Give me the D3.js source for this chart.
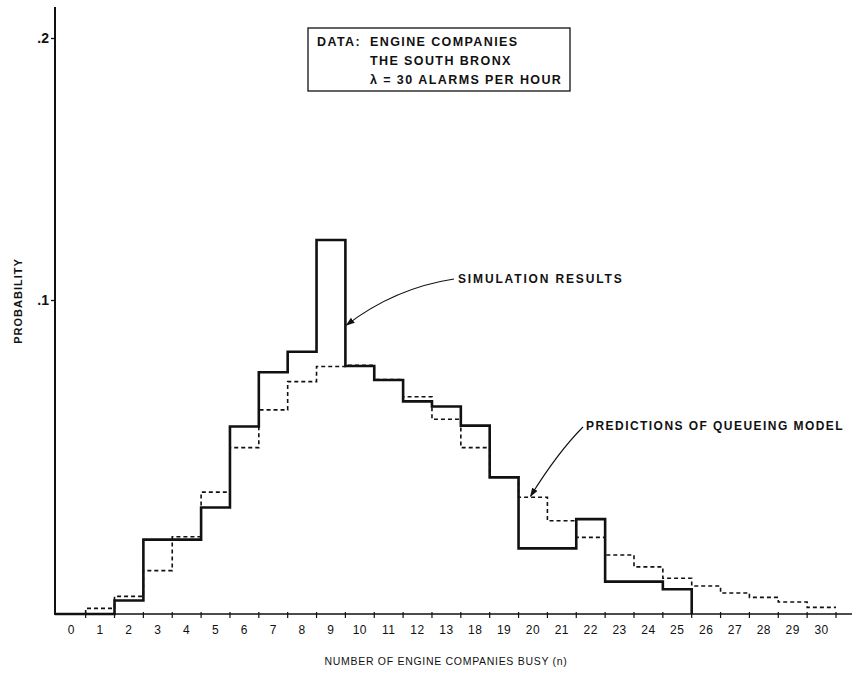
<!DOCTYPE html>
<html>
<head>
<meta charset="utf-8">
<script src="https://cdn.jsdelivr.net/npm/d3@7/dist/d3.min.js"></script>
<style>
  html, body { margin: 0; padding: 0; background: #fff; }
  svg { display: block; }
  text { font-family: "Liberation Sans", Arial, sans-serif; fill: #111; }
</style>
</head>
<body>
<svg id="chart" width="864" height="673"></svg>
<script>
// ---- data ----
const categories = ["0","1","2","3","4","5","6","7","8","9","10","11","12","13",
                    "18","19","20","21","22","23","24","25","26","27","28","29","30"];
const simulationResults = [0, 0, 0.0043, 0.0237, 0.0237, 0.0339, 0.0597, 0.0770, 0.0835, 0.1229,
                           0.0790, 0.0745, 0.0677, 0.0661, 0.0600, 0.0435, 0.0209, 0.0209, 0.0302,
                           0.0103, 0.0103, 0.0079, 0, 0, 0, 0, 0];
const queueingModel = [0, 0.0018, 0.0056, 0.0138, 0.0246, 0.0388, 0.0530, 0.0650, 0.0740, 0.0788,
                       0.0792, 0.0747, 0.0692, 0.0620, 0.0530, 0.0437, 0.0372, 0.0297, 0.0244,
                       0.0188, 0.0150, 0.0114, 0.0089, 0.0067, 0.0053, 0.0038, 0.0021];
const yTickValues = [0.1, 0.2];
const yTickLabels = [".1", ".2"];
const legendHead = "DATA:";
const legendLines = ["ENGINE COMPANIES", "THE SOUTH BRONX", "\u03BB = 30 ALARMS PER HOUR"];
const xTitle = "NUMBER OF ENGINE COMPANIES BUSY (n)";
const yTitle = "PROBABILITY";
const simLabel = "SIMULATION RESULTS";
const modelLabel = "PREDICTIONS OF QUEUEING MODEL";

// ---- scales ----
const svg = d3.select("#chart");
const x = d3.scaleBand().domain(categories).range([56.8, 836]).padding(0);
// the original drawing's axis is not uniformly spaced: piecewise-linear scale
const y = d3.scaleLinear().domain([0, 0.1, 0.2]).range([614, 300, 38]);

const defs = svg.append("defs");
defs.append("marker").attr("id", "arrow").attr("viewBox", "0 0 10 10")
  .attr("refX", 9).attr("refY", 5).attr("markerWidth", 9).attr("markerHeight", 9)
  .attr("markerUnits", "userSpaceOnUse").attr("orient", "auto")
  .append("path").attr("d", "M0,1.5 L10,5 L0,8.5 Z").attr("fill", "#111");

// ---- axes ----
const y0 = y(0);
svg.append("line").attr("x1", 55).attr("x2", 55).attr("y1", 7).attr("y2", y0 + 1)
  .attr("stroke", "#111").attr("stroke-width", 2);
svg.append("line").attr("x1", 54).attr("x2", 852).attr("y1", y0).attr("y2", y0)
  .attr("stroke", "#111").attr("stroke-width", 1.6);

const yAxis = d3.axisLeft(y).tickValues(yTickValues)
  .tickFormat((d, i) => yTickLabels[i]).tickSize(4).tickPadding(2);
const gy = svg.append("g").attr("transform", "translate(55,0)").call(yAxis);
gy.select(".domain").remove();
gy.selectAll(".tick line").attr("stroke", "#111").attr("stroke-width", 1.3);
gy.selectAll(".tick text").attr("font-size", 14).attr("font-weight", "bold")
  .attr("font-family", "Liberation Sans, Arial, sans-serif").attr("fill", "#111");

// x ticks at bin boundaries
svg.append("g").selectAll("line").data(categories).join("line")
  .attr("x1", d => x(d) + x.bandwidth()).attr("x2", d => x(d) + x.bandwidth())
  .attr("y1", y0 - 2).attr("y2", y0 + 4)
  .attr("stroke", "#111").attr("stroke-width", 1.2);

const xAxis = d3.axisBottom(x).tickSize(0).tickPadding(11);
const gx = svg.append("g").attr("transform", `translate(0,${y0})`).call(xAxis);
gx.select(".domain").remove();
gx.selectAll(".tick text").attr("font-size", 12).attr("letter-spacing", 0.5)
  .attr("font-family", "Liberation Sans, Arial, sans-serif").attr("fill", "#111");

// titles
svg.append("text").attr("x", 446).attr("y", 665).attr("text-anchor", "middle")
  .attr("font-size", 10.5).attr("letter-spacing", 0.7).text(xTitle);
svg.append("text").attr("transform", "translate(22,301) rotate(-90)")
  .attr("text-anchor", "middle").attr("font-size", 11).attr("font-weight", "bold")
  .attr("letter-spacing", 1).text(yTitle);

// ---- step lines ----
function stepPoints(values, dropAtEnd) {
  let first = values.findIndex(v => v > 0);
  let last = values.length - 1;
  while (last > 0 && values[last] === 0) last--;
  const pts = [];
  const startX = x(categories[first]);
  pts.push([dropAtEnd ? 55 : startX, y(0)]);
  if (dropAtEnd) pts.push([startX, y(0)]);
  for (let i = first; i <= last; i++) {
    const xl = x(categories[i]), xr = xl + x.bandwidth();
    pts.push([xl, y(values[i])]);
    pts.push([xr, y(values[i])]);
  }
  if (dropAtEnd) pts.push([x(categories[last]) + x.bandwidth(), y(0)]);
  return pts;
}
const line = d3.line();
svg.append("path").attr("d", line(stepPoints(queueingModel, false)))
  .attr("fill", "none").attr("stroke", "#111").attr("stroke-width", 1.6)
  .attr("stroke-dasharray", "4,3");
svg.append("path").attr("d", line(stepPoints(simulationResults, true)))
  .attr("fill", "none").attr("stroke", "#111").attr("stroke-width", 2.6)
  .attr("stroke-linejoin", "miter");

// ---- legend box ----
const box = svg.append("g");
box.append("rect").attr("x", 308).attr("y", 28).attr("width", 262).attr("height", 63)
  .attr("fill", "none").attr("stroke", "#111").attr("stroke-width", 1.3);
const legendStyle = s => s.attr("font-size", 12.5).attr("font-weight", "bold").attr("letter-spacing", 1.4);
box.append("text").attr("x", 317).attr("y", 46).call(legendStyle).text(legendHead);
box.selectAll("text.line").data(legendLines).join("text").attr("class", "line")
  .attr("x", 370).attr("y", (d, i) => 46 + i * 19).call(legendStyle).text(d => d);

// ---- annotations ----
const simTipX = x(categories[9]) + x.bandwidth() + 1, simTipY = y(0.092);
svg.append("text").attr("x", 458).attr("y", 283).attr("font-size", 12).attr("font-weight", "bold")
  .attr("letter-spacing", 1.85).text(simLabel);
svg.append("path")
  .attr("d", `M454,279 Q395,288 ${simTipX},${simTipY}`)
  .attr("fill", "none").attr("stroke", "#111").attr("stroke-width", 1.1)
  .attr("marker-end", "url(#arrow)");

const modTipX = x(categories[16]) + 12, modTipY = y(queueingModel[16]) - 1;
svg.append("text").attr("x", 586).attr("y", 430).attr("font-size", 12).attr("font-weight", "bold")
  .attr("letter-spacing", 1.45).text(modelLabel);
svg.append("path")
  .attr("d", `M583,427 Q558,452 ${modTipX},${modTipY}`)
  .attr("fill", "none").attr("stroke", "#111").attr("stroke-width", 1.1)
  .attr("marker-end", "url(#arrow)");
</script>
</body>
</html>
